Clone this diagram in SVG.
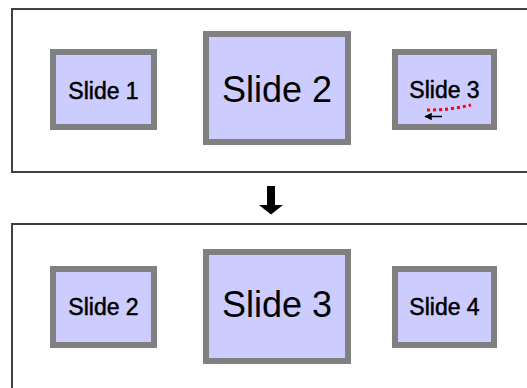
<svg xmlns="http://www.w3.org/2000/svg" width="527" height="388" viewBox="0 0 527 388">
<style>
.frame{fill:none;stroke:#404040;stroke-width:2}
.slide{fill:#ccccff;stroke:#808080;stroke-width:6}
.t{font-family:"Liberation Sans",Arial,sans-serif;fill:#000;text-anchor:middle}
.s{font-size:23px;stroke:#000;stroke-width:0.5}
.b{font-size:36px}
</style>
<defs>
<marker id="ah" viewBox="0 0 10 10" refX="9" refY="5" markerWidth="5" markerHeight="5" orient="auto">
<path d="M0,0 L10,5 L0,10 Z" fill="#000"/>
</marker>
</defs>
<rect width="527" height="388" fill="#fff"/>
<g id="frame-top"><rect class="frame" x="12" y="9" width="530" height="163"/></g>
<g id="frame-bottom"><path class="frame" d="M540,224 H12 V400"/></g>
<g id="top-slide1"><rect class="slide" x="53" y="52" width="101" height="75"/><text class="t s" x="103.5" y="99">Slide 1</text></g>
<g id="top-slide2"><rect class="slide" x="206" y="34" width="142" height="108"/><text class="t b" x="277" y="102">Slide 2</text></g>
<g id="top-slide3"><rect class="slide" x="395" y="52" width="99" height="75"/><text class="t s" x="444.5" y="98">Slide 3</text></g>
<g id="bottom-slide2"><rect class="slide" x="53" y="269" width="101" height="76"/><text class="t s" x="103.5" y="315">Slide 2</text></g>
<g id="bottom-slide3"><rect class="slide" x="206" y="252" width="142" height="109"/><text class="t b" x="277" y="317">Slide 3</text></g>
<g id="bottom-slide4"><rect class="slide" x="395" y="269" width="99" height="76"/><text class="t s" x="444.5" y="315">Slide 4</text></g>
<g id="connectors">
<path d="M427,110 Q450,110 471,105" fill="none" stroke="#ff0000" stroke-width="3" stroke-dasharray="3,3"/>
<path d="M442,116.5 L425,116.5" fill="none" stroke="#000" stroke-width="1.5" marker-end="url(#ah)"/>
<path d="M267,186 H275 V205 H283 L271,214.5 L259,205 H267 Z" fill="#000"/>
</g>
</svg>
